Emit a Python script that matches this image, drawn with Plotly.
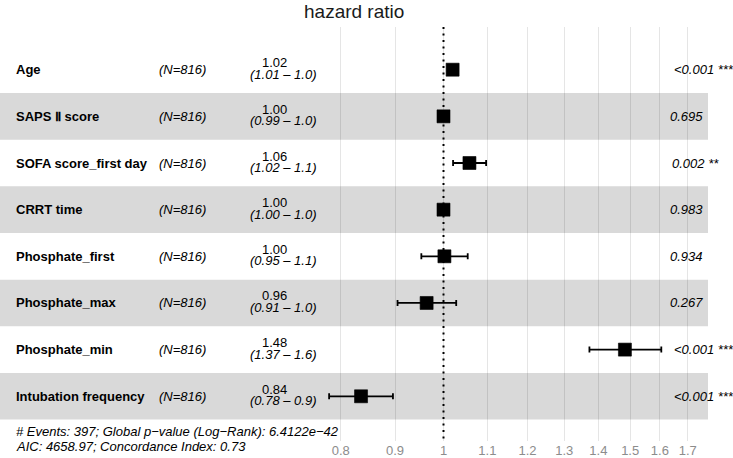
import plotly.graph_objects as go

# ---------------- data ----------------
variables = ["Age", "SAPS Ⅱ score", "SOFA score_first day", "CRRT time",
             "Phosphate_first", "Phosphate_max", "Phosphate_min", "Intubation frequency"]
n_labels = ["(N=816)"] * 8
hr = [1.02, 1.00, 1.058, 1.00, 1.002, 0.964, 1.483, 0.836]
ci_low = [1.01, 0.99, 1.021, 1.00, 0.953, 0.905, 1.373, 0.780]
ci_high = [1.03, 1.01, 1.097, 1.00, 1.054, 1.028, 1.605, 0.896]
est_labels = ["1.02", "1.00", "1.06", "1.00", "1.00", "0.96", "1.48", "0.84"]
ci_labels = ["(1.01 – 1.0)", "(0.99 – 1.0)", "(1.02 – 1.1)", "(1.00 – 1.0)",
             "(0.95 – 1.1)", "(0.91 – 1.0)", "(1.37 – 1.6)", "(0.78 – 0.9)"]
p_labels = ["<0.001 ***", "0.695", "0.002 **", "0.983", "0.934", "0.267",
            "<0.001 ***", "<0.001 ***"]
tick_vals = [0.8, 0.9, 1.0, 1.1, 1.2, 1.3, 1.4, 1.5, 1.6, 1.7]
tick_text = ["0.8", "0.9", "1", "1.1", "1.2", "1.3", "1.4", "1.5", "1.6", "1.7"]
footer_lines = ["# Events: 397; Global p−value (Log−Rank): 6.4122e−42",
                "AIC: 4658.97; Concordance Index: 0.73"]
title_text = "hazard ratio"

# ---------------- layout helpers ----------------
W, H = 733, 458
FONT = "Liberation Sans, Arial, Helvetica, sans-serif"
px_per_dec = 1060.0
x_one = 443.5
x_range = [(0 - x_one) / px_per_dec, (W - x_one) / px_per_dec]
top_px, bot_px = 27, 443
row0_px, row_step = 70.0, 46.86
y_range = [(bot_px - row0_px) / row_step, -(row0_px - top_px) / row_step]

def px(xp):
    return xp / W

rows = list(range(len(variables)))

fig = go.Figure()
fig.add_trace(go.Scatter(
    x=hr, y=rows, mode="markers",
    marker=dict(symbol="square", size=13, color="black",
                line=dict(color="black", width=0.6)),
    error_x=dict(type="data", symmetric=False,
                 array=[h - m for h, m in zip(ci_high, hr)],
                 arrayminus=[m - l for m, l in zip(hr, ci_low)],
                 color="black", thickness=1.8, width=3),
    showlegend=False, hoverinfo="skip"))

shapes = []
for i in rows:
    if i % 2 == 1:
        shapes.append(dict(type="rect", xref="paper", yref="y",
                           x0=0, x1=px(708), y0=i - 0.5, y1=i + 0.5,
                           fillcolor="#d9d9d9", line=dict(width=0), layer="below"))
shapes.append(dict(type="line", xref="x", yref="y", x0=1, x1=1,
                   y0=y_range[1], y1=y_range[0],
                   line=dict(color="black", width=2, dash="2px,4.5px"), layer="above"))

ann = []
ann.append(dict(text=title_text, x=px(354), y=1 - 12 / H, xref="paper", yref="paper",
                showarrow=False, xanchor="center", yanchor="middle",
                font=dict(family=FONT, size=19, color="#1a1a1a")))
for i in rows:
    ann.append(dict(text="<b>%s</b>" % variables[i], x=px(14), y=i, xref="paper", yref="y",
                    showarrow=False, xanchor="left", yanchor="middle",
                    font=dict(family=FONT, size=13, color="black")))
    ann.append(dict(text="<i>%s</i>" % n_labels[i], x=px(157), y=i, xref="paper", yref="y",
                    showarrow=False, xanchor="left", yanchor="middle",
                    font=dict(family=FONT, size=13, color="black")))
    ann.append(dict(text=est_labels[i], x=px(274), y=i, yshift=7, xref="paper", yref="y",
                    showarrow=False, xanchor="center", yanchor="middle",
                    font=dict(family=FONT, size=13, color="black")))
    ann.append(dict(text="<i>%s</i>" % ci_labels[i], x=px(283), y=i, yshift=-4.5,
                    xref="paper", yref="y",
                    showarrow=False, xanchor="center", yanchor="middle",
                    font=dict(family=FONT, size=13, color="black")))
    x_left = 664 + 0.8 * len(p_labels[i])
    ann.append(dict(text="<i>%s</i>" % p_labels[i], x=px(x_left), y=i, xref="paper", yref="y",
                    showarrow=False, xanchor="left", yanchor="middle",
                    font=dict(family=FONT, size=13, color="black")))
ann.append(dict(text="<i>%s</i>" % footer_lines[0], x=px(14), y=1 - 433 / H,
                xref="paper", yref="paper", showarrow=False,
                xanchor="left", yanchor="middle",
                font=dict(family=FONT, size=13, color="black")))
ann.append(dict(text="<i>%s</i>" % footer_lines[1], x=px(14), y=0,
                xref="paper", yref="paper", showarrow=False,
                xanchor="left", yanchor="bottom",
                font=dict(family=FONT, size=13, color="black")))

fig.update_layout(
    width=W, height=H,
    margin=dict(l=0, r=0, t=0, b=0),
    paper_bgcolor="white", plot_bgcolor="rgba(0,0,0,0)",
    xaxis=dict(type="log", range=x_range, domain=[0, 1],
               tickvals=tick_vals, ticktext=tick_text,
               showgrid=True, gridcolor="rgba(0,0,0,0.1)", gridwidth=1,
               zeroline=False, showline=False, ticks="",
               tickfont=dict(family=FONT, size=13, color="#8c8c8c"),
               fixedrange=True),
    yaxis=dict(range=y_range, domain=[1 - bot_px / H, 1 - top_px / H],
               showgrid=False, zeroline=False, showticklabels=False,
               showline=False, ticks="", fixedrange=True),
    shapes=shapes, annotations=ann,
)

fig.write_html("out.html")
